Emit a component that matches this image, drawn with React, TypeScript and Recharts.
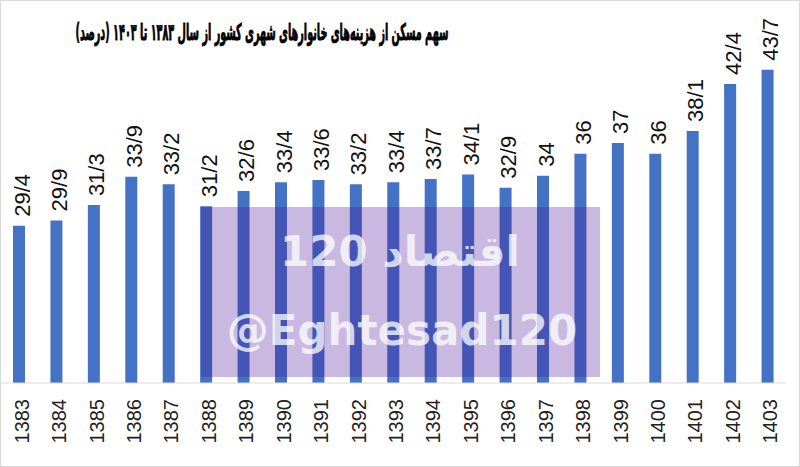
import React from 'react';
import { BarChart, Bar, XAxis, YAxis, LabelList } from 'recharts';

const years = [
  '1383', '1384', '1385', '1386', '1387', '1388', '1389', '1390', '1391', '1392', '1393',
  '1394', '1395', '1396', '1397', '1398', '1399', '1400', '1401', '1402', '1403',
];
const housingShare = [
  29.4, 29.9, 31.3, 33.9, 33.2, 31.2, 32.6, 33.4, 33.6, 33.2, 33.4,
  33.7, 34.1, 32.9, 34, 36, 37, 36, 38.1, 42.4, 43.7,
];

const title = 'سهم مسکن از هزینه‌های خانوارهای شهری کشور از سال ۱۳۸۳ تا ۱۴۰۳ (درصد)';
const watermarkLines = ['اقتصاد 120', '@Eghtesad120'];

const data = years.map((year, i) => ({ year, value: housingShare[i] }));

// values use "/" as the decimal mark, like the source
const fmt = (v: number) => String(v).replace('.', '/');

const ValueLabel = (props: any) => {
  const { x, y, width, value } = props;
  const cx = x + width / 2;
  const ty = y - 9;
  return (
    <text
      x={cx}
      y={ty}
      transform={`rotate(-90, ${cx}, ${ty})`}
      textAnchor="start"
      dy="0.48em"
      fontSize={22}
      fontFamily="Liberation Sans, Arial, sans-serif"
      fill="#111"
    >
      {fmt(value)}
    </text>
  );
};

const YearTick = (props: any) => {
  const { x, y, payload } = props;
  const ty = y + 8;
  return (
    <text
      x={x}
      y={ty}
      transform={`rotate(-90, ${x}, ${ty})`}
      textAnchor="end"
      dy="0.5em"
      fontSize={20}
      fontFamily="Liberation Sans, Arial, sans-serif"
      fill="#222"
    >
      {payload.value}
    </text>
  );
};

export default function App() {
  return (
    <div
      style={{
        position: 'absolute',
        left: 0,
        top: 0,
        width: 800,
        height: 467,
        background: '#fff',
        boxSizing: 'border-box',
        border: '1px solid #d9d9d9',
        overflow: 'hidden',
      }}
    >
      <div style={{ position: 'absolute', left: -1, top: -1 }}>
        <BarChart
          width={800}
          height={467}
          data={data}
          margin={{ top: 1, right: 14, left: 0, bottom: 0 }}
        >
          <XAxis
            dataKey="year"
            height={84}
            interval={0}
            tickLine={false}
            axisLine={{ stroke: '#d9d9d9' }}
            tick={<YearTick />}
          />
          <YAxis hide domain={[15, 50]} allowDataOverflow />
          <Bar dataKey="value" fill="#4472C4" barSize={12} isAnimationActive={false}>
            <LabelList dataKey="value" content={<ValueLabel />} />
          </Bar>
        </BarChart>
      </div>

      <svg
        width={800}
        height={467}
        style={{ position: 'absolute', left: -1, top: -1, pointerEvents: 'none' }}
      >
        {/* the source title uses a very condensed bold face; squeeze DejaVu to match */}
        <g transform="translate(262, 40) scale(0.42, 1)">
          <text
            x={0}
            y={0}
            textAnchor="middle"
            fontSize={23}
            fontWeight="bold"
            fontFamily="DejaVu Sans, sans-serif"
            fill="#000"
            stroke="#000"
            strokeWidth={0.9}
          >
            {title}
          </text>
        </g>

        <rect x={201} y={207} width={399} height={170} fill="rgb(69,14,148)" fillOpacity={0.29} />
        <text
          x={400}
          y={266}
          textAnchor="middle"
          fontSize={42}
          fontWeight="bold"
          fontFamily="DejaVu Sans, sans-serif"
          fill="#fff"
          fillOpacity={0.75}
        >
          {watermarkLines[0]}
        </text>
        <text
          x={402}
          y={345}
          textAnchor="middle"
          fontSize={42}
          fontWeight="bold"
          fontFamily="DejaVu Sans, sans-serif"
          fill="#fff"
          fillOpacity={0.75}
        >
          {watermarkLines[1]}
        </text>
      </svg>
    </div>
  );
}
